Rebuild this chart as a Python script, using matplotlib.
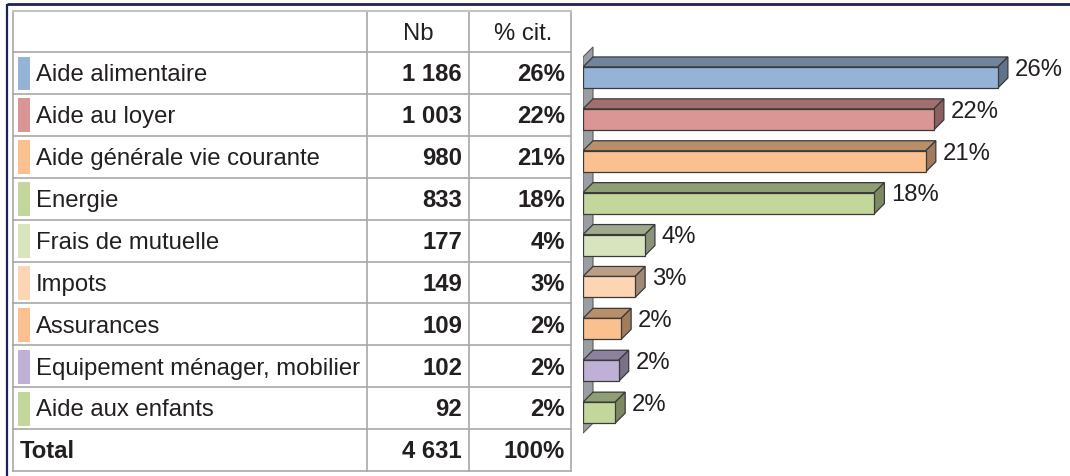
import matplotlib
matplotlib.use("Agg")
import matplotlib.pyplot as plt
from matplotlib.patches import Polygon, Rectangle

plt.rcParams["font.family"] = ["Liberation Sans", "DejaVu Sans"]

# data
categories = [
    "Aide alimentaire",
    "Aide au loyer",
    "Aide générale vie courante",
    "Energie",
    "Frais de mutuelle",
    "Impots",
    "Assurances",
    "Equipement ménager, mobilier",
    "Aide aux enfants",
]
counts = [1186, 1003, 980, 833, 177, 149, 109, 102, 92]
colors = ["#95b3d7", "#d99694", "#fac08f", "#c3d69b", "#d7e4bd",
          "#fcd5b5", "#fac090", "#bfb0d6", "#c3d69b"]
headers = ["Nb", "% cit."]
total_label = "Total"

total = sum(counts)
pcts = [c / total * 100 for c in counts]

W, H = 1070, 476
TXT = "#231f20"
GRID = "#a8a8a8"
FS = 17.2
BASE = 8.3  # half cap height in px, to put text baselines


def fmt_nb(n):
    return f"{n:,}".replace(",", " ")


def shade(hexcol, f):
    r, g, b = matplotlib.colors.to_rgb(hexcol)
    return (r * f, g * f, b * f)


fig = plt.figure(figsize=(W / 100, H / 100), dpi=100)

# ---- table (pixel coordinates) ----
tab = fig.add_axes([0, 0, 1, 1])
tab.set_xlim(0, W)
tab.set_ylim(H, 0)
tab.axis("off")

x0, x1, x2, x3 = 13, 367, 469, 571
y_top, y_head = 11, 52
n_rows = len(categories) + 1
row_h = (471 - y_head) / n_rows
y_bot = y_head + row_h * n_rows

# navy frame
tab.plot([7, W], [4, 4], color="#1b2454", lw=2.0, solid_capstyle="butt")
tab.plot([7, 7], [4, H], color="#1b2454", lw=1.6, solid_capstyle="butt")

# grid
for x in (x0, x1, x2, x3):
    tab.plot([x, x], [y_top, y_bot], color=GRID, lw=1.2)
tab.plot([x0, x3], [y_top, y_top], color="#c4c4c4", lw=1.5)
for k in range(n_rows + 1):
    y = y_head + row_h * k
    tab.plot([x0, x3], [y, y], color=GRID, lw=1.2)

yc = (y_top + y_head) / 2
tab.text((x1 + x2) / 2, yc + BASE, headers[0], ha="center", va="baseline",
         fontsize=FS, color=TXT)
tab.text((x2 + x3) / 2 + 3, yc + BASE, headers[1], ha="center",
         va="baseline", fontsize=FS, color=TXT)

for i, (cat, n, p, col) in enumerate(zip(categories, counts, pcts, colors)):
    top = y_head + row_h * i
    yc = top + row_h / 2
    tab.add_patch(Rectangle((18, top + 4.5), 12, row_h - 8, facecolor=col,
                            edgecolor="none"))
    tab.text(36, yc + BASE, cat, ha="left", va="baseline", fontsize=FS,
             color=TXT)
    tab.text(x2 - 7, yc + BASE, fmt_nb(n), ha="right", va="baseline",
             fontsize=FS, color=TXT, fontweight="bold")
    tab.text(x3 - 6, yc + BASE, f"{round(p)}%", ha="right", va="baseline",
             fontsize=FS, color=TXT, fontweight="bold")

yc = y_head + row_h * (n_rows - 0.5)
tab.text(20, yc + BASE, total_label, ha="left", va="baseline", fontsize=FS,
         color=TXT, fontweight="bold")
tab.text(x2 - 7, yc + BASE, fmt_nb(total), ha="right", va="baseline",
         fontsize=FS, color=TXT, fontweight="bold")
tab.text(x3 - 6, yc + BASE, "100%", ha="right", va="baseline", fontsize=FS,
         color=TXT, fontweight="bold")

# ---- 3D bar chart ----
px_per_pct = 16.2
ax_left, ax_top, ax_bot = 583, y_top - 1, y_bot
ax = fig.add_axes([ax_left / W, (H - ax_bot) / H, (W - ax_left) / W,
                   (ax_bot - ax_top) / H])
ax.set_xlim(0, (W - ax_left) / px_per_pct)
first_c = y_head + row_h / 2 + 4.5
ax.set_ylim(len(categories) - 1 + (ax_bot - (first_c + row_h * 8)) / row_h,
            -(first_c - ax_top) / row_h)
ax.axis("off")

depth = 10
dx = depth / px_per_pct
dy = depth / row_h
bh = 21 / row_h / 2
EDGE = "#3a3a3a"

n = len(categories)
wall = Polygon([(0, -bh - dy), (dx, -bh - 2 * dy), (dx, n - 1 + bh),
                (0, n - 1 + bh + dy)], closed=True, facecolor="#9a9ea2",
               edgecolor="#5a5a5a", lw=0.8)
ax.add_patch(wall)

for i, (p, col) in enumerate(zip(pcts, colors)):
    yt, yb = i - bh, i + bh
    top_face = Polygon([(0, yt), (p, yt), (p + dx, yt - dy), (dx, yt - dy)],
                       closed=True, facecolor=shade(col, 0.74),
                       edgecolor=EDGE, lw=0.9)
    right_face = Polygon([(p, yt), (p, yb), (p + dx, yb - dy),
                          (p + dx, yt - dy)], closed=True,
                         facecolor=shade(col, 0.64), edgecolor=EDGE, lw=0.9)
    front = Rectangle((0, yt), p, yb - yt, facecolor=col, edgecolor=EDGE,
                      lw=0.9)
    for patch in (top_face, right_face, front):
        ax.add_patch(patch)
    ax.text(p + dx + 7 / px_per_pct, i - dy + BASE / row_h, f"{round(p)}%",
            ha="left", va="baseline", fontsize=FS, color=TXT)

fig.savefig("out.png", dpi=100)
